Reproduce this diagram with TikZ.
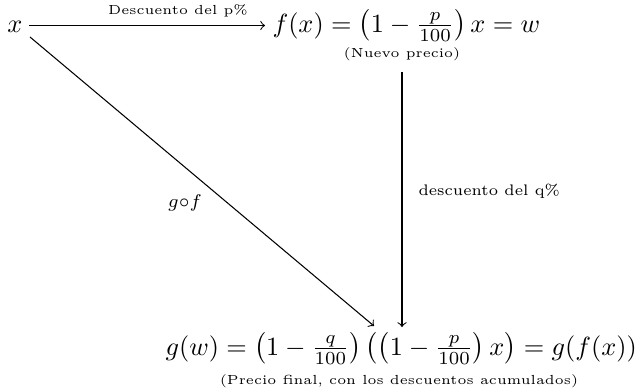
\documentclass[tikz,border=0pt]{standalone}
\usepackage{amsmath}
\begin{document}
\begin{tikzpicture}[x=0.38pt,y=-0.38pt,
  lbl/.style={inner sep=0pt},
  arr/.style={->,line width=0.4pt}]
\useasboundingbox (0,0) rectangle (640,390);
% nodes
\node[lbl,anchor=base] (x) at (15,32) {$x$};
\node[lbl,anchor=base west] (f) at (272,32) {$f(x)=\bigl(1-\frac{p}{100}\bigr)\,x=w$};
\node[lbl,anchor=base] (dp) at (178,14) {\tiny Descuento del p\%};
\node[lbl,anchor=base] (n) at (402,57) {\tiny (Nuevo precio)};
\node[lbl,anchor=base west] (dq) at (418,195) {\fontsize{5.8}{7}\selectfont descuento del q\%};
\node[lbl,anchor=base] (gf) at (185,207) {\scriptsize $g{\circ}f$};
\node[lbl,anchor=base west] (g) at (165,355) {$g(w)=\bigl(1-\frac{q}{100}\bigr)\,\bigl(\bigl(1-\frac{p}{100}\bigr)\,x\bigr)=g(f(x))$};
\node[lbl,anchor=base] (pf) at (399,384) {\tiny (Precio final, con los descuentos acumulados)};
% connector ends
\coordinate (hs) at (29,25.5);
\coordinate (he) at (265,25.5);
\coordinate (vtop) at (402,72);
\coordinate (vbot) at (402,327);
\coordinate (dtop) at (30,37);
\coordinate (dbot) at (374,326);
% connectors
\draw[arr] (hs) -- (he);
\draw[arr] (vtop) -- (vbot);
\draw[arr] (dtop) -- (dbot);
\end{tikzpicture}
\end{document}
